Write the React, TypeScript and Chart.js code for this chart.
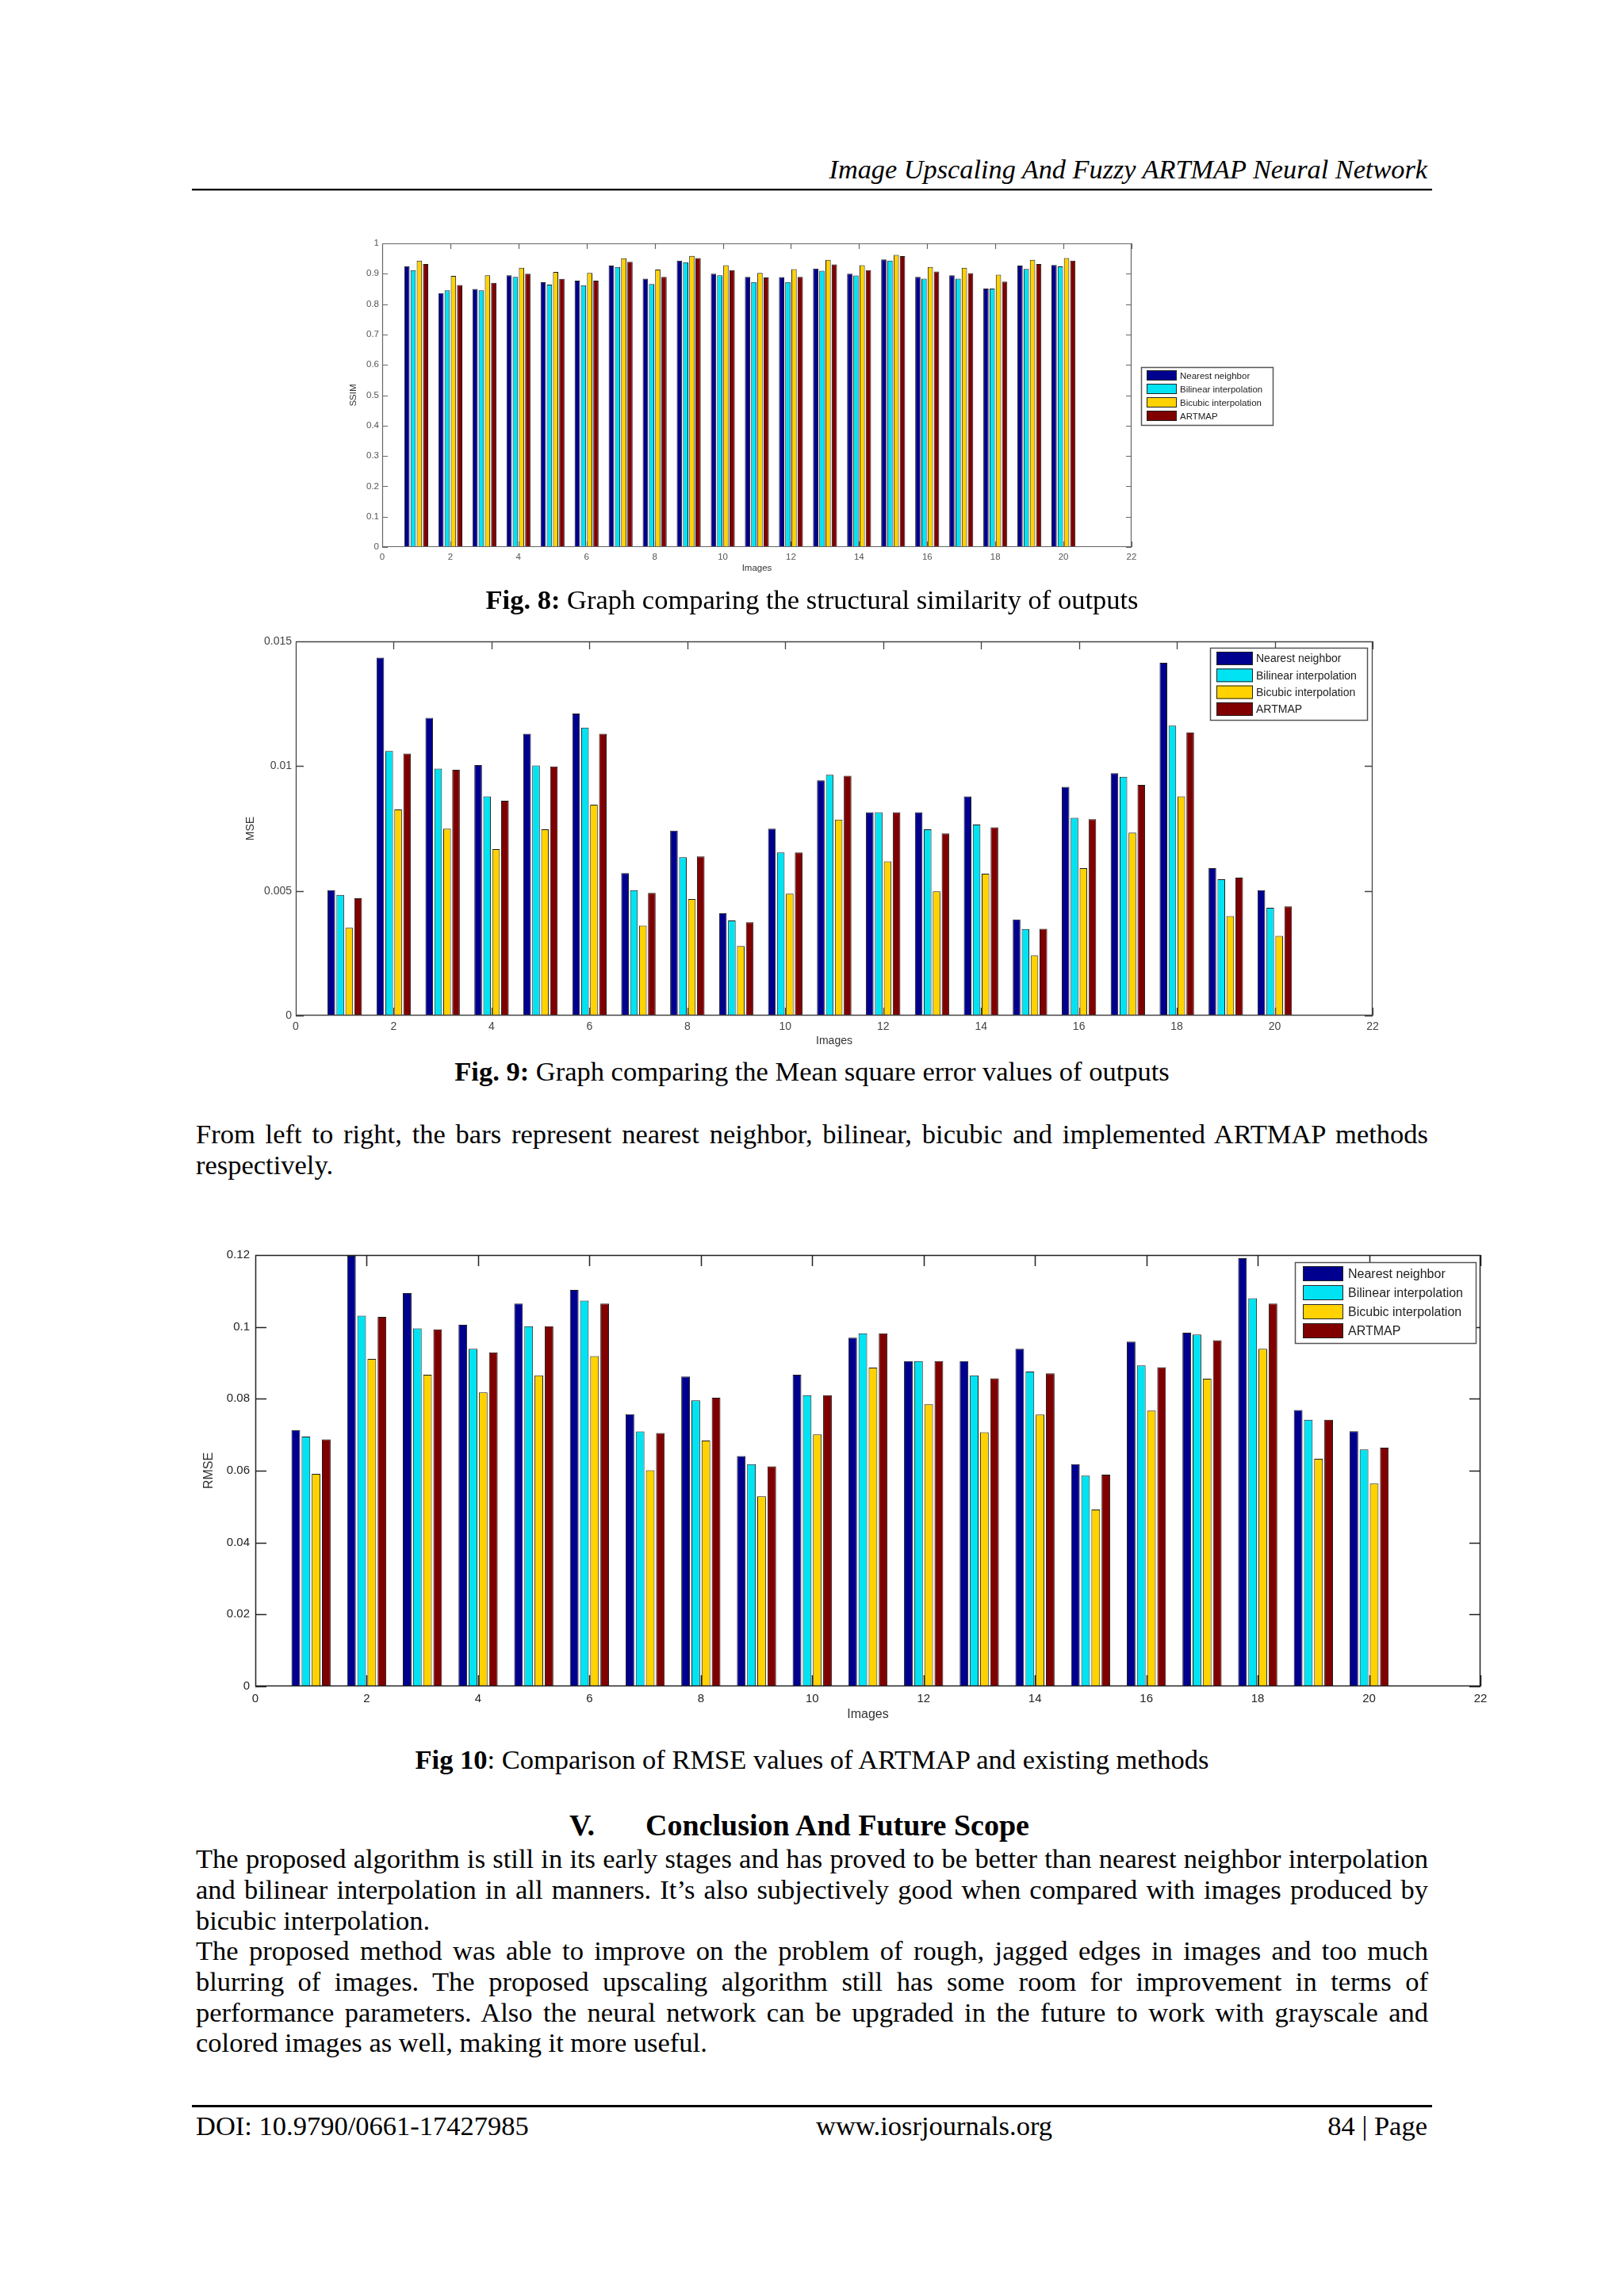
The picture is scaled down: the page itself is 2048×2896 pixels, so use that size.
import React, { useEffect, useRef } from "react";
import { Chart, registerables } from "chart.js";

Chart.register(...registerables);

// ---------- data ----------
const imageIds = [1, 2, 3, 4, 5, 6, 7, 8, 9, 10, 11, 12, 13, 14, 15, 16, 17, 18, 19, 20];
const methodLabels = ["Nearest neighbor", "Bilinear interpolation", "Bicubic interpolation", "ARTMAP"];
const methodColors = ["#00008F", "#00E3F2", "#FFD200", "#800000"];

const ssimNearest = [0.925, 0.836, 0.85, 0.895, 0.872, 0.877, 0.927, 0.884, 0.943, 0.9, 0.89, 0.889, 0.917, 0.9, 0.947, 0.89, 0.895, 0.851, 0.927, 0.929];
const ssimBilinear = [0.912, 0.845, 0.845, 0.89, 0.864, 0.862, 0.922, 0.866, 0.938, 0.895, 0.873, 0.873, 0.91, 0.894, 0.943, 0.884, 0.884, 0.851, 0.916, 0.924];
const ssimBicubic = [0.943, 0.893, 0.895, 0.92, 0.906, 0.903, 0.951, 0.914, 0.959, 0.928, 0.903, 0.915, 0.946, 0.928, 0.962, 0.922, 0.92, 0.897, 0.946, 0.952];
const ssimArtmap = [0.932, 0.863, 0.87, 0.9, 0.883, 0.877, 0.939, 0.89, 0.952, 0.912, 0.888, 0.89, 0.931, 0.912, 0.958, 0.907, 0.902, 0.874, 0.932, 0.943];

const mseNearest = [0.00503, 0.01435, 0.01193, 0.01004, 0.0113, 0.01211, 0.00571, 0.00741, 0.0041, 0.00749, 0.00943, 0.00815, 0.00815, 0.00879, 0.00385, 0.00917, 0.00972, 0.01414, 0.00591, 0.00503];
const mseBilinear = [0.00484, 0.01061, 0.0099, 0.00879, 0.01003, 0.01154, 0.00503, 0.00635, 0.00381, 0.00654, 0.00965, 0.00815, 0.00747, 0.00766, 0.00347, 0.00793, 0.00957, 0.01162, 0.00547, 0.00432];
const mseBicubic = [0.00352, 0.00826, 0.00749, 0.00667, 0.00747, 0.00845, 0.00361, 0.00467, 0.00279, 0.00489, 0.00786, 0.00618, 0.00498, 0.00569, 0.00241, 0.00591, 0.00733, 0.00879, 0.00399, 0.00319];
const mseArtmap = [0.0047, 0.0105, 0.00985, 0.00861, 0.00999, 0.0113, 0.00492, 0.00638, 0.00374, 0.00654, 0.00961, 0.00815, 0.0073, 0.00755, 0.00348, 0.00787, 0.00925, 0.01135, 0.00553, 0.00438];

const rmseNearest = [0.0713, 0.1198, 0.1094, 0.1006, 0.1065, 0.1103, 0.0757, 0.0862, 0.0641, 0.0867, 0.097, 0.0905, 0.0905, 0.0939, 0.0618, 0.0959, 0.0984, 0.1191, 0.0769, 0.071];
const rmseBilinear = [0.0695, 0.1031, 0.0996, 0.0939, 0.1002, 0.1073, 0.0709, 0.0796, 0.0618, 0.081, 0.0982, 0.0905, 0.0865, 0.0876, 0.0586, 0.0893, 0.0979, 0.108, 0.0742, 0.0659];
const rmseBicubic = [0.0591, 0.0911, 0.0867, 0.0818, 0.0865, 0.0919, 0.0601, 0.0684, 0.0529, 0.0701, 0.0887, 0.0785, 0.0707, 0.0756, 0.0492, 0.0767, 0.0856, 0.0939, 0.0633, 0.0564];
const rmseArtmap = [0.0687, 0.1028, 0.0993, 0.0929, 0.1002, 0.1065, 0.0705, 0.0803, 0.0612, 0.081, 0.0982, 0.0905, 0.0857, 0.0871, 0.0589, 0.0888, 0.0963, 0.1065, 0.0742, 0.0664];

const xAxisMin = 0;
const xAxisMax = 22;
const xTickStep = 2;

const conclusionLines = [
  "The proposed algorithm is still in its early stages and has proved to be better than nearest neighbor interpolation",
  "and bilinear interpolation in all manners. It\u2019s also subjectively good when compared with images produced by",
  "bicubic interpolation.",
  "The proposed method was able to improve on the problem of rough, jagged edges in images and too much",
  "blurring of images. The proposed upscaling algorithm still has some room for improvement in terms of",
  "performance parameters. Also the neural network can be upgraded in the future to work with grayscale and",
  "colored images as well, making it more useful.",
];
const conclusionLast = [false, false, true, false, false, false, true];

// ---------- chart plumbing ----------
const SANS = "'Liberation Sans', Arial, Helvetica, sans-serif";
const SERIF = "'Liberation Serif', 'Times New Roman', Times, serif";
const BODY = 34.5;

const matlabPlugin = {
  id: "matlab",
  afterDatasetsDraw(chart: any, _args: any, o: any) {
    const { ctx, chartArea: a, scales } = chart;
    const xs = scales.x;
    const ys = scales.y;
    ctx.save();
    ctx.strokeStyle = o.axisColor;
    ctx.lineWidth = o.axisWidth;
    ctx.beginPath();
    ctx.rect(a.left + 0.5, a.top + 0.5, a.right - a.left - 1, a.bottom - a.top - 1);
    xs.ticks.forEach((t: any) => {
      const px = Math.round(xs.getPixelForValue(t.value)) + 0.5;
      ctx.moveTo(px, a.bottom);
      ctx.lineTo(px, a.bottom - o.tickLen);
      ctx.moveTo(px, a.top);
      ctx.lineTo(px, a.top + o.tickLen);
    });
    ys.ticks.forEach((t: any) => {
      const py = Math.round(ys.getPixelForValue(t.value)) + 0.5;
      ctx.moveTo(a.left, py);
      ctx.lineTo(a.left + o.tickLen, py);
      ctx.moveTo(a.right, py);
      ctx.lineTo(a.right - o.tickLen, py);
    });
    ctx.stroke();

    // axis titles
    ctx.fillStyle = o.titleColor;
    ctx.font = `${o.titleSize}px ${SANS}`;
    ctx.textAlign = "center";
    ctx.textBaseline = "middle";
    ctx.fillText(o.xTitle, (a.left + a.right) / 2, a.bottom + o.xTitleOffset);
    ctx.save();
    ctx.translate(a.left - o.yTitleOffset, (a.top + a.bottom) / 2);
    ctx.rotate(-Math.PI / 2);
    ctx.fillText(o.yTitle, 0, 0);
    ctx.restore();

    // legend
    const L = o.legend;
    ctx.fillStyle = "#ffffff";
    ctx.fillRect(L.x, L.y, L.w, L.h);
    ctx.strokeStyle = "#555";
    ctx.lineWidth = 1.5;
    ctx.strokeRect(L.x + 0.5, L.y + 0.5, L.w, L.h);
    ctx.font = `${L.font}px ${SANS}`;
    ctx.textAlign = "left";
    ctx.textBaseline = "middle";
    chart.data.datasets.forEach((ds: any, i: number) => {
      const ry = L.row0 + i * L.pitch;
      ctx.fillStyle = ds.backgroundColor;
      ctx.fillRect(L.px, ry, L.pw, L.ph);
      ctx.strokeStyle = "#222";
      ctx.lineWidth = 1;
      ctx.strokeRect(L.px + 0.5, ry + 0.5, L.pw - 1, L.ph - 1);
      ctx.fillStyle = "#222";
      ctx.fillText(ds.label, L.tx, ry + L.ph / 2 + 1);
    });
    ctx.restore();
  },
};

type Spec = {
  cx: number; cy: number; cw: number; ch: number;
  pl: number; pt: number; pr: number; pb: number;
  series: number[][];
  yMax: number; yStep: number;
  tickFont: number; tickColor: string; yPad: number; xPad: number;
  axisColor: string; axisWidth: number; tickLen: number;
  xTitle: string; yTitle: string; titleSize: number; xTitleOffset: number; yTitleOffset: number;
  legend: { x: number; y: number; w: number; h: number; px: number; pw: number; ph: number; row0: number; pitch: number; tx: number; font: number };
};

function BarChart({ spec }: { spec: Spec }) {
  const ref = useRef<HTMLCanvasElement>(null);
  useEffect(() => {
    const c = ref.current as HTMLCanvasElement;
    const YW = 60;
    const XH = 30;
    const L = spec.legend;
    const chart = new Chart(c, {
      type: "bar",
      data: {
        datasets: spec.series.map((vals, i) => ({
          label: methodLabels[i],
          data: imageIds.map((id, k) => ({ x: id, y: vals[k] })),
          backgroundColor: methodColors[i],
          borderColor: "#1a1a1a",
          borderWidth: 1,
          categoryPercentage: 0.73,
          barPercentage: 0.85,
        })),
      },
      options: {
        responsive: false,
        animation: false,
        devicePixelRatio: 1,
        layout: {
          padding: {
            left: spec.pl - spec.cx - YW,
            top: spec.pt - spec.cy,
            right: spec.cx + spec.cw - spec.pr,
            bottom: spec.cy + spec.ch - spec.pb - XH,
          },
        },
        plugins: {
          legend: { display: false },
          tooltip: { enabled: false },
          matlab: {
            axisColor: spec.axisColor,
            axisWidth: spec.axisWidth,
            tickLen: spec.tickLen,
            xTitle: spec.xTitle,
            yTitle: spec.yTitle,
            titleSize: spec.titleSize,
            titleColor: "#333",
            xTitleOffset: spec.xTitleOffset,
            yTitleOffset: spec.yTitleOffset,
            legend: {
              x: L.x - spec.cx, y: L.y - spec.cy, w: L.w, h: L.h,
              px: L.px - spec.cx, pw: L.pw, ph: L.ph,
              row0: L.row0 - spec.cy, pitch: L.pitch,
              tx: L.tx - spec.cx, font: L.font,
            },
          },
        } as any,
        scales: {
          x: {
            type: "linear",
            min: xAxisMin,
            max: xAxisMax,
            offset: false,
            grid: { display: false, drawTicks: false, tickLength: 0, offset: false },
            border: { display: false },
            ticks: {
              stepSize: xTickStep,
              autoSkip: false,
              maxRotation: 0,
              padding: spec.xPad,
              color: spec.tickColor,
              font: { family: SANS, size: spec.tickFont },
            },
            afterFit: (s: any) => { s.height = XH; },
          },
          y: {
            type: "linear",
            min: 0,
            max: spec.yMax,
            grid: { display: false, drawTicks: false, tickLength: 0 },
            border: { display: false },
            ticks: {
              stepSize: spec.yStep,
              padding: spec.yPad,
              color: spec.tickColor,
              font: { family: SANS, size: spec.tickFont },
              callback: (v: any) => String(parseFloat(Number(v).toFixed(4))),
            },
            afterFit: (s: any) => { s.width = YW; },
          },
        },
      },
      plugins: [matlabPlugin],
    } as any);
    return () => chart.destroy();
  }, [spec]);
  return (
    <canvas
      ref={ref}
      width={spec.cw}
      height={spec.ch}
      style={{ position: "absolute", left: spec.cx, top: spec.cy, width: spec.cw, height: spec.ch }}
    />
  );
}

const ssimSpec: Spec = {
  cx: 400, cy: 290, cw: 1240, ch: 450,
  pl: 482, pt: 307, pr: 1427, pb: 690,
  series: [ssimNearest, ssimBilinear, ssimBicubic, ssimArtmap],
  yMax: 1, yStep: 0.1,
  tickFont: 11.5, tickColor: "#555", yPad: 4, xPad: 6,
  axisColor: "#666", axisWidth: 1.2, tickLen: 7,
  xTitle: "Images", yTitle: "SSIM", titleSize: 11.5, xTitleOffset: 27, yTitleOffset: 36,
  legend: { x: 1439, y: 463, w: 166, h: 73, px: 1446, pw: 38, ph: 13, row0: 467, pitch: 17, tx: 1488, font: 11.5 },
};

const mseSpec: Spec = {
  cx: 290, cy: 790, cw: 1470, ch: 540,
  pl: 373, pt: 809, pr: 1731, pb: 1281,
  series: [mseNearest, mseBilinear, mseBicubic, mseArtmap],
  yMax: 0.015, yStep: 0.005,
  tickFont: 14, tickColor: "#444", yPad: 5, xPad: 6,
  axisColor: "#444", axisWidth: 1.3, tickLen: 10,
  xTitle: "Images", yTitle: "MSE", titleSize: 14, xTitleOffset: 32, yTitleOffset: 57,
  legend: { x: 1526, y: 817, w: 198, h: 91, px: 1534, pw: 46, ph: 17, row0: 822, pitch: 21.3, tx: 1584, font: 14 },
};

const rmseSpec: Spec = {
  cx: 230, cy: 1560, cw: 1670, ch: 630,
  pl: 322, pt: 1583, pr: 1867, pb: 2127,
  series: [rmseNearest, rmseBilinear, rmseBicubic, rmseArtmap],
  yMax: 0.12, yStep: 0.02,
  tickFont: 15, tickColor: "#222", yPad: 7, xPad: 7,
  axisColor: "#222", axisWidth: 1.5, tickLen: 14,
  xTitle: "Images", yTitle: "RMSE", titleSize: 16, xTitleOffset: 36, yTitleOffset: 58,
  legend: { x: 1633, y: 1592, w: 228, h: 102, px: 1643, pw: 51, ph: 19, row0: 1597, pitch: 24, tx: 1700, font: 16 },
};

// ---------- text helpers ----------
function Txt({ left, baseline, size, width, align, style, children }: any) {
  return (
    <div
      style={{
        position: "absolute",
        left,
        top: baseline - 0.8375 * size,
        width,
        fontSize: size,
        lineHeight: `${size}px`,
        fontFamily: SERIF,
        color: "#000",
        textAlign: align || "left",
        whiteSpace: "nowrap",
        ...style,
      }}
    >
      {children}
    </div>
  );
}

function JustLine({ baseline, text, last }: { baseline: number; text: string; last: boolean }) {
  return (
    <div
      style={{
        position: "absolute",
        left: 247,
        top: baseline - 0.8375 * BODY,
        width: 1554,
        fontSize: BODY,
        lineHeight: `${BODY}px`,
        fontFamily: SERIF,
        color: "#000",
        textAlign: "justify",
        textAlignLast: last ? "left" : "justify",
        whiteSpace: "nowrap",
      }}
    >
      {text}
    </div>
  );
}

export default function App() {
  return (
    <div style={{ position: "absolute", left: 0, top: 0, width: 2048, height: 2896, background: "#fff", overflow: "hidden" }}>
      {/* header */}
      <Txt left={0} width={1800} baseline={225} size={34.3} align="right" style={{ fontStyle: "italic" }}>
        Image Upscaling And Fuzzy ARTMAP Neural Network
      </Txt>
      <div style={{ position: "absolute", left: 242, top: 238, width: 1564, height: 2, background: "#000" }} />
      <div style={{ position: "absolute", left: 242, top: 240, width: 1564, height: 1, background: "#aaa" }} />

      <BarChart spec={ssimSpec} />
      <Txt left={0} width={2048} baseline={768} size={BODY} align="center">
        <b>Fig. 8:</b> Graph comparing the structural similarity of outputs
      </Txt>

      <BarChart spec={mseSpec} />
      <Txt left={0} width={2048} baseline={1363} size={BODY} align="center">
        <b>Fig. 9:</b> Graph comparing the Mean square error values of outputs
      </Txt>

      <JustLine baseline={1442} last={false} text="From left to right, the bars represent nearest neighbor, bilinear, bicubic and implemented ARTMAP methods" />
      <JustLine baseline={1481} last={true} text="respectively." />

      <BarChart spec={rmseSpec} />
      <Txt left={0} width={2048} baseline={2231} size={BODY} align="center">
        <b>Fig 10</b>: Comparison of RMSE values of ARTMAP and existing methods
      </Txt>

      <Txt left={718} baseline={2315} size={38} style={{ fontWeight: "bold" }}>V.</Txt>
      <Txt left={814} baseline={2315} size={38} style={{ fontWeight: "bold" }}>Conclusion And Future Scope</Txt>

      {conclusionLines.map((t, i) => (
        <JustLine key={i} baseline={2356 + i * 38.7} text={t} last={conclusionLast[i]} />
      ))}

      {/* footer */}
      <div style={{ position: "absolute", left: 242, top: 2655, width: 1564, height: 3, background: "#000" }} />
      <Txt left={247} baseline={2693} size={BODY}>DOI: 10.9790/0661-17427985</Txt>
      <Txt left={1029} baseline={2693} size={BODY}>www.iosrjournals.org</Txt>
      <Txt left={0} width={1800} baseline={2693} size={BODY} align="right">84 | Page</Txt>
    </div>
  );
}
